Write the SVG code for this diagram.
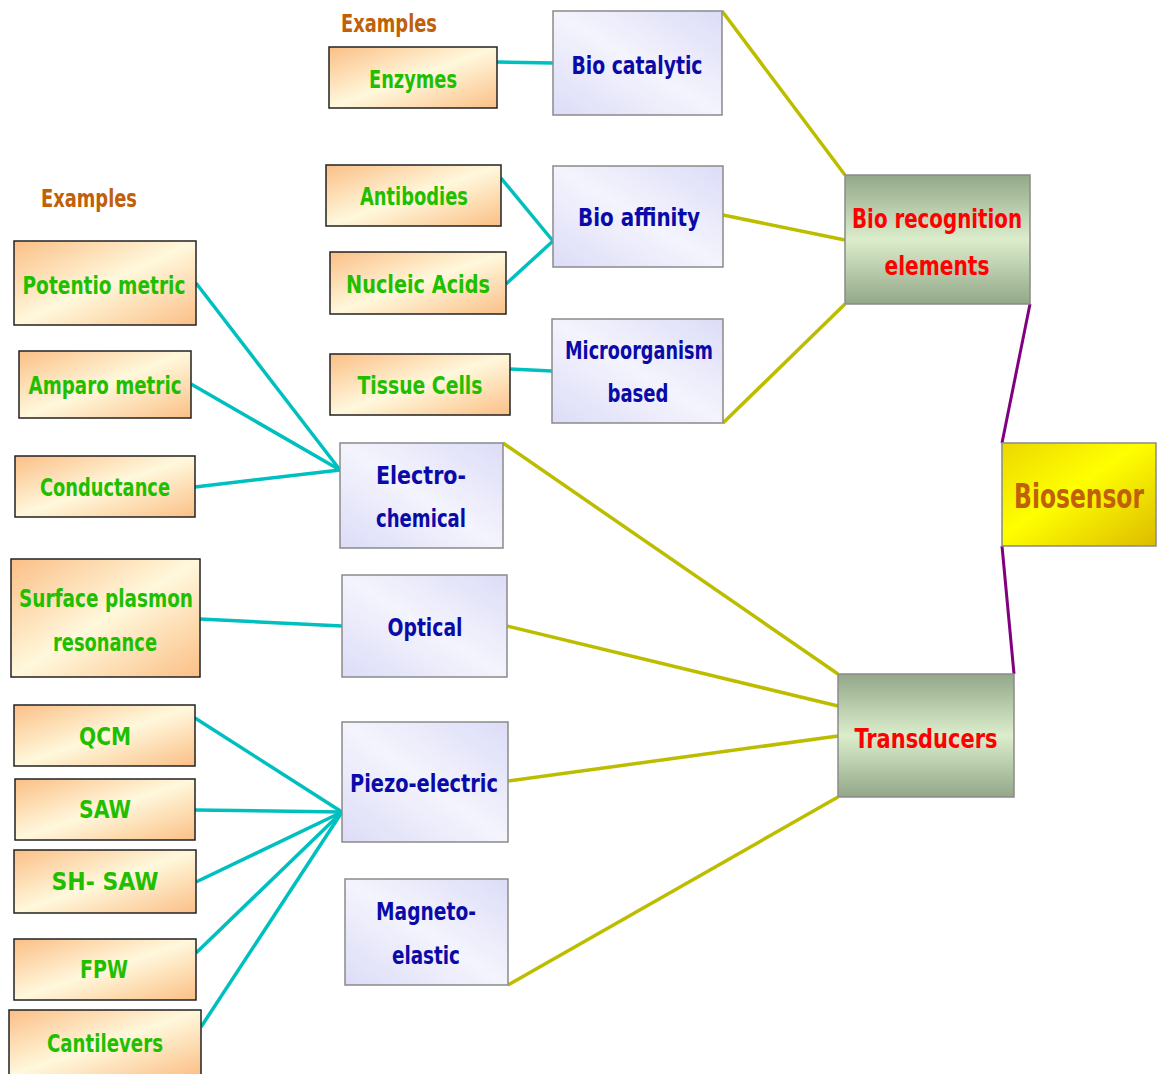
<svg xmlns="http://www.w3.org/2000/svg" width="1162" height="1074" viewBox="0 0 1162 1074">
<defs>
<linearGradient id="gOr" x1="0" y1="0" x2="1" y2="1">
<stop offset="0" stop-color="#fbbf86"/><stop offset="0.5" stop-color="#fff8dc"/><stop offset="1" stop-color="#fbbf86"/>
</linearGradient>
<linearGradient id="gBl" x1="1" y1="0" x2="0" y2="1">
<stop offset="0" stop-color="#dcdcf8"/><stop offset="0.5" stop-color="#f4f4fd"/><stop offset="1" stop-color="#dcdcf8"/>
</linearGradient>
<linearGradient id="gGr" x1="0" y1="0" x2="0" y2="1">
<stop offset="0" stop-color="#93a889"/><stop offset="0.5" stop-color="#dbedcb"/><stop offset="1" stop-color="#93a889"/>
</linearGradient>
<linearGradient id="gYe" x1="0" y1="0" x2="1" y2="1">
<stop offset="0" stop-color="#ecd800"/><stop offset="0.45" stop-color="#ffff00"/><stop offset="1" stop-color="#dcbc00"/>
</linearGradient>
</defs>
<style>
text{font-family:"DejaVu Sans Condensed","DejaVu Sans",sans-serif;font-weight:bold;text-anchor:middle;dominant-baseline:central;font-size:24px}
.or{fill:url(#gOr);stroke:#222;stroke-width:1.5}
.bl{fill:url(#gBl);stroke:#8a8a8a;stroke-width:1.5}
.gr{fill:url(#gGr);stroke:#8a8a8a;stroke-width:1.5}
.ye{fill:url(#gYe);stroke:#8a8a8a;stroke-width:1.5}
.tg{fill:#1fbf00}
.tb{fill:#0a0aa8}
.tr{fill:#ff0000;font-size:27px}
.tx{fill:#c0600a}
.cy{stroke:#bdbd00;stroke-width:3.5;fill:none}
.ct{stroke:#00bfbf;stroke-width:3.5;fill:none}
.cp{stroke:#800080;stroke-width:3;fill:none}
</style>
<g id="connectors">
<line class="cy" x1="722" y1="11" x2="845" y2="175"/>
<line class="cy" x1="723" y1="215" x2="845" y2="240"/>
<line class="cy" x1="723" y1="423" x2="845" y2="304"/>
<line class="cy" x1="503" y1="443" x2="838" y2="674"/>
<line class="cy" x1="507" y1="626" x2="838" y2="706"/>
<line class="cy" x1="508" y1="781" x2="838" y2="736"/>
<line class="cy" x1="508" y1="985" x2="838" y2="797"/>
<line class="cp" x1="1030" y1="304" x2="1002" y2="443"/>
<line class="cp" x1="1002" y1="546" x2="1014" y2="674"/>
<line class="ct" x1="497" y1="62" x2="553" y2="63"/>
<line class="ct" x1="501" y1="178" x2="553" y2="241"/>
<line class="ct" x1="506" y1="284" x2="553" y2="241"/>
<line class="ct" x1="510" y1="369" x2="552" y2="371"/>
<line class="ct" x1="196" y1="283" x2="340" y2="470"/>
<line class="ct" x1="191" y1="384" x2="340" y2="470"/>
<line class="ct" x1="195" y1="487" x2="340" y2="470"/>
<line class="ct" x1="200" y1="619" x2="342" y2="626"/>
<line class="ct" x1="195" y1="718" x2="342" y2="812"/>
<line class="ct" x1="195" y1="810" x2="342" y2="812"/>
<line class="ct" x1="196" y1="882" x2="342" y2="812"/>
<line class="ct" x1="196" y1="953" x2="342" y2="812"/>
<line class="ct" x1="201" y1="1027" x2="342" y2="812"/>
</g>
<text class="tx" x="389" y="24" textLength="96" lengthAdjust="spacingAndGlyphs">Examples</text>
<text class="tx" x="89" y="199" textLength="96" lengthAdjust="spacingAndGlyphs">Examples</text>
<g id="enzymes"><rect class="or" x="329" y="47" width="168" height="61"/><text class="tg" x="413" y="80" textLength="88" lengthAdjust="spacingAndGlyphs">Enzymes</text></g>
<g id="antibodies"><rect class="or" x="326" y="165" width="175" height="61"/><text class="tg" x="414" y="197" textLength="108" lengthAdjust="spacingAndGlyphs">Antibodies</text></g>
<g id="nucleic"><rect class="or" x="330" y="252" width="176" height="62"/><text class="tg" x="418" y="285" textLength="144" lengthAdjust="spacingAndGlyphs">Nucleic Acids</text></g>
<g id="tissue"><rect class="or" x="330" y="354" width="180" height="61"/><text class="tg" x="420" y="386" textLength="125" lengthAdjust="spacingAndGlyphs">Tissue Cells</text></g>
<g id="potentio"><rect class="or" x="14" y="241" width="182" height="84"/><text class="tg" x="104" y="286" textLength="163" lengthAdjust="spacingAndGlyphs">Potentio metric</text></g>
<g id="amparo"><rect class="or" x="19" y="351" width="172" height="67"/><text class="tg" x="105" y="386" textLength="153" lengthAdjust="spacingAndGlyphs">Amparo metric</text></g>
<g id="conductance"><rect class="or" x="15" y="456" width="180" height="61"/><text class="tg" x="105" y="488" textLength="130" lengthAdjust="spacingAndGlyphs">Conductance</text></g>
<g id="spr"><rect class="or" x="11" y="559" width="189" height="118"/><text class="tg" x="106" y="599" textLength="174" lengthAdjust="spacingAndGlyphs">Surface plasmon</text><text class="tg" x="105" y="643" textLength="104" lengthAdjust="spacingAndGlyphs">resonance</text></g>
<g id="qcm"><rect class="or" x="14" y="705" width="181" height="61"/><text class="tg" x="105" y="737" textLength="52" lengthAdjust="spacingAndGlyphs">QCM</text></g>
<g id="saw"><rect class="or" x="15" y="779" width="180" height="61"/><text class="tg" x="105" y="810" textLength="52" lengthAdjust="spacingAndGlyphs">SAW</text></g>
<g id="shsaw"><rect class="or" x="14" y="850" width="182" height="63"/><text class="tg" x="105" y="882" textLength="107" lengthAdjust="spacingAndGlyphs">SH- SAW</text></g>
<g id="fpw"><rect class="or" x="14" y="939" width="182" height="61"/><text class="tg" x="104" y="970" textLength="48" lengthAdjust="spacingAndGlyphs">FPW</text></g>
<g id="cantilevers"><rect class="or" x="9" y="1010" width="192" height="66"/><text class="tg" x="105" y="1044" textLength="116" lengthAdjust="spacingAndGlyphs">Cantilevers</text></g>
<g id="biocatalytic"><rect class="bl" x="553" y="11" width="169" height="104"/><text class="tb" x="637" y="66" textLength="131" lengthAdjust="spacingAndGlyphs">Bio catalytic</text></g>
<g id="bioaffinity"><rect class="bl" x="553" y="166" width="170" height="101"/><text class="tb" x="639" y="218" textLength="122" lengthAdjust="spacingAndGlyphs">Bio affinity</text></g>
<g id="microorganism"><rect class="bl" x="552" y="319" width="171" height="104"/><text class="tb" x="639" y="351" textLength="148" lengthAdjust="spacingAndGlyphs">Microorganism</text><text class="tb" x="638" y="394" textLength="61" lengthAdjust="spacingAndGlyphs">based</text></g>
<g id="electrochemical"><rect class="bl" x="340" y="443" width="163" height="105"/><text class="tb" x="421" y="476" textLength="90" lengthAdjust="spacingAndGlyphs">Electro-</text><text class="tb" x="421" y="519" textLength="90" lengthAdjust="spacingAndGlyphs">chemical</text></g>
<g id="optical"><rect class="bl" x="342" y="575" width="165" height="102"/><text class="tb" x="425" y="628" textLength="75" lengthAdjust="spacingAndGlyphs">Optical</text></g>
<g id="piezo"><rect class="bl" x="342" y="722" width="166" height="120"/><text class="tb" x="424" y="784" textLength="148" lengthAdjust="spacingAndGlyphs">Piezo-electric</text></g>
<g id="magneto"><rect class="bl" x="345" y="879" width="163" height="106"/><text class="tb" x="426" y="912" textLength="100" lengthAdjust="spacingAndGlyphs">Magneto-</text><text class="tb" x="426" y="956" textLength="68" lengthAdjust="spacingAndGlyphs">elastic</text></g>
<g id="biorecognition"><rect class="gr" x="845" y="175" width="185" height="129"/><text class="tr" x="937" y="218" textLength="170" lengthAdjust="spacingAndGlyphs">Bio recognition</text><text class="tr" x="937" y="265" textLength="105" lengthAdjust="spacingAndGlyphs">elements</text></g>
<g id="transducers"><rect class="gr" x="838" y="674" width="176" height="123"/><text class="tr" x="926" y="738" textLength="143" lengthAdjust="spacingAndGlyphs">Transducers</text></g>
<g id="biosensor"><rect class="ye" x="1002" y="443" width="154" height="103"/><text class="tx" transform="translate(1079 496) scale(1 1.3)" x="0" y="0" style="font-size:26px">Biosensor</text></g>
</svg>
